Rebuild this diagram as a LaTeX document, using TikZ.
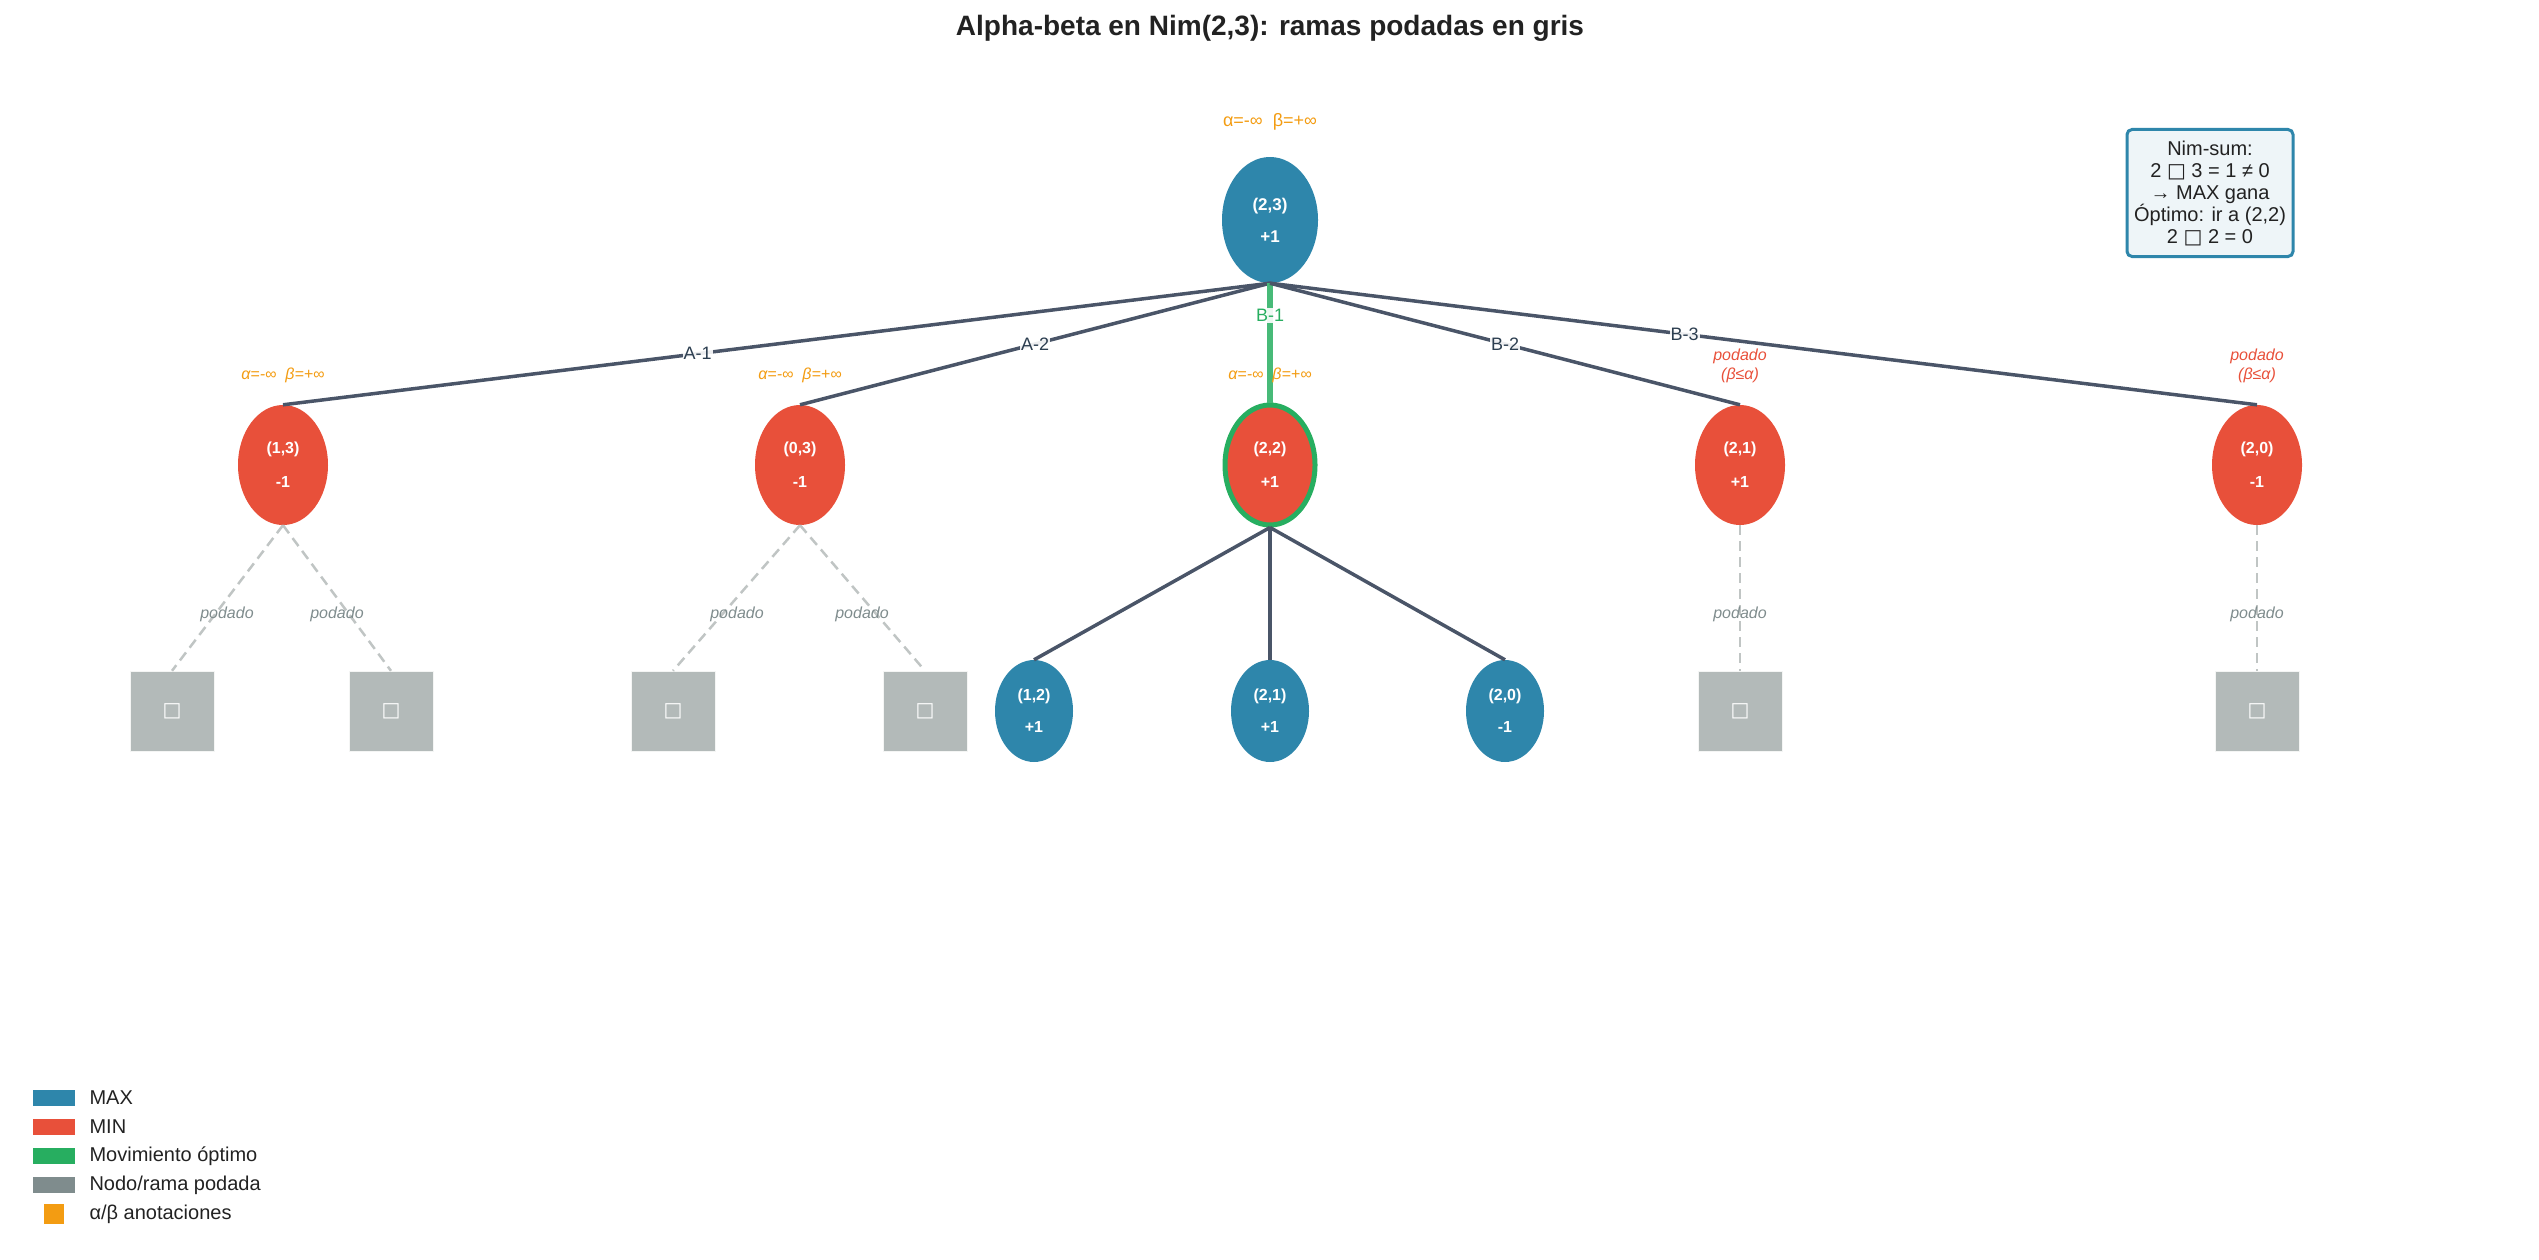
\documentclass[tikz,border=0pt]{standalone}
\usepackage{fontspec}
\setmainfont{Liberation Sans}
\newfontfamily\djvfont{DejaVu Sans}
\usetikzlibrary{shapes.geometric}
\definecolor{cmax}{HTML}{2E86AB}
\definecolor{cmin}{HTML}{E8503A}
\definecolor{cgreen}{HTML}{27AE60}
\definecolor{cedge}{HTML}{4A5568}
\definecolor{cbox}{HTML}{B3BAB9}
\definecolor{cdash}{HTML}{C0C5C4}
\definecolor{corange}{HTML}{F39C12}
\definecolor{cgrayt}{HTML}{7F8C8D}
\definecolor{ctext}{HTML}{222222}
\definecolor{clab}{HTML}{2C3E50}
\begin{document}
\begin{tikzpicture}[x=1pt,y=-1pt,
 mx/.style={ellipse,fill=cmax,minimum width=96pt,minimum height=126pt,inner sep=0pt,text=white,font=\fontsize{17}{32}\selectfont\bfseries,align=center},
 mn/.style={ellipse,fill=cmin,minimum width=90pt,minimum height=120pt,inner sep=0pt,text=white,font=\fontsize{16}{34}\selectfont\bfseries,align=center},
 lf/.style={ellipse,fill=cmax,minimum width=78pt,minimum height=102pt,inner sep=0pt,text=white,font=\fontsize{16}{32}\selectfont\bfseries,align=center},
 pb/.style={rectangle,fill=cbox,draw=white!85!cbox,minimum width=84pt,minimum height=80pt,inner sep=0pt,text=white,font=\djvfont\fontsize{20}{20}\selectfont},
 ed/.style={draw=cedge,line width=3.5pt},
 dd/.style={draw=cdash,line width=2.5pt,dash pattern=on 10pt off 6pt},
 el/.style={fill=white,fill opacity=0.9,text opacity=1,inner sep=1pt,text=clab,font=\fontsize{18}{18}\selectfont},
 ab/.style={text=corange,font=\fontsize{16}{16}\selectfont\itshape},
 pr/.style={text=cgrayt,font=\fontsize{16}{16}\selectfont\itshape},
 prr/.style={text=cmin,font=\fontsize{16}{19}\selectfont\itshape,align=center},
 lg/.style={anchor=west,text=ctext,font=\fontsize{20}{20}\selectfont}]
\useasboundingbox (0,0) rectangle (2539,1260);
\node[font=\fontsize{28}{28}\selectfont\bfseries,text=ctext] (title) at (1270,28) {Alpha-beta en Nim(2,3): ramas podadas en gris};
% nodes
\node[mx] (r) at (1270,220) {(2,3)\\+1};
\node[mn] (a) at (283,465) {(1,3)\\-1};
\node[mn] (b) at (800,465) {(0,3)\\-1};
\node[mn,draw=cgreen,line width=5pt] (c) at (1270,465) {(2,2)\\+1};
\node[mn] (d) at (1740,465) {(2,1)\\+1};
\node[mn] (e) at (2257,465) {(2,0)\\-1};
\node[pb] (a1) at (172,711) {\char"25A1};
\node[pb] (a2) at (391,711) {\char"25A1};
\node[pb] (b1) at (673,711) {\char"25A1};
\node[pb] (b2) at (925,711) {\char"25A1};
\node[pb] (d1) at (1740,711) {\char"25A1};
\node[pb] (e1) at (2257,711) {\char"25A1};
\node[lf] (c1) at (1034,711) {(1,2)\\+1};
\node[lf] (c2) at (1270,711) {(2,1)\\+1};
\node[lf] (c3) at (1505,711) {(2,0)\\-1};
% edges
\draw[ed] (r.south) -- (a.north) node[el,pos=0.58] {A-1};
\draw[ed] (r.south) -- (b.north) node[el,pos=0.5] {A-2};
\draw[draw=cgreen!85!white,line width=6pt] (r.south) -- (c.north) node[el,text=cgreen,pos=0.27] {B-1};
\draw[ed] (r.south) -- (d.north) node[el,pos=0.5] {B-2};
\draw[ed] (r.south) -- (e.north) node[el,pos=0.42] {B-3};
\draw[ed] (c.south) -- (c1.north);
\draw[ed] (c.south) -- (c2.north);
\draw[ed] (c.south) -- (c3.north);
\draw[dd] (a.south) -- (a1.north);
\draw[dd] (a.south) -- (a2.north);
\draw[dd] (b.south) -- (b1.north);
\draw[dd] (b.south) -- (b2.north);
\draw[dd] (d.south) -- (d1.north);
\draw[dd] (e.south) -- (e1.north);
% labels
\node[text=corange,font=\fontsize{18}{18}\selectfont] (abr) at (1270,122) {α=-∞\ \ β=+∞};
\node[ab] (aba) at (283,375) {α=-∞\ \ β=+∞};
\node[ab] (abb) at (800,375) {α=-∞\ \ β=+∞};
\node[ab] (abc) at (1270,375) {α=-∞\ \ β=+∞};
\node[prr] (pd) at (1740,366) {podado\\(β≤α)};
\node[prr] (pe) at (2257,366) {podado\\(β≤α)};
\node[pr] (p1) at (227,614) {podado};
\node[pr] (p2) at (337,614) {podado};
\node[pr] (p3) at (737,614) {podado};
\node[pr] (p4) at (862,614) {podado};
\node[pr] (p5) at (1740,614) {podado};
\node[pr] (p6) at (2257,614) {podado};
% info box
\node[draw=cmax,line width=3pt,fill=cmax!8!white,rounded corners=5pt,minimum width=166pt,minimum height=127pt,inner sep=2pt,align=center,text=ctext,font=\fontsize{20}{22}\selectfont] (info) at (2210,193) {Nim-sum:\\2 {\djvfont\char"25A1} 3 = 1 ≠ 0\\→ MAX gana\\Óptimo: ir a (2,2)\\2 {\djvfont\char"25A1} 2 = 0};
% legend
\fill[cmax] (33,1090) rectangle (75,1106);
\fill[cmin] (33,1119) rectangle (75,1135);
\fill[cgreen] (33,1148) rectangle (75,1164);
\fill[cgrayt] (33,1177) rectangle (75,1193);
\fill[corange] (44,1204) rectangle (64,1224);
\node[lg] (l1) at (86,1098) {MAX};
\node[lg] (l2) at (86,1127) {MIN};
\node[lg] (l3) at (86,1156) {Movimiento óptimo};
\node[lg] (l4) at (86,1185) {Nodo/rama podada};
\node[lg] (l5) at (86,1214) {α/β anotaciones};
\end{tikzpicture}
\end{document}
